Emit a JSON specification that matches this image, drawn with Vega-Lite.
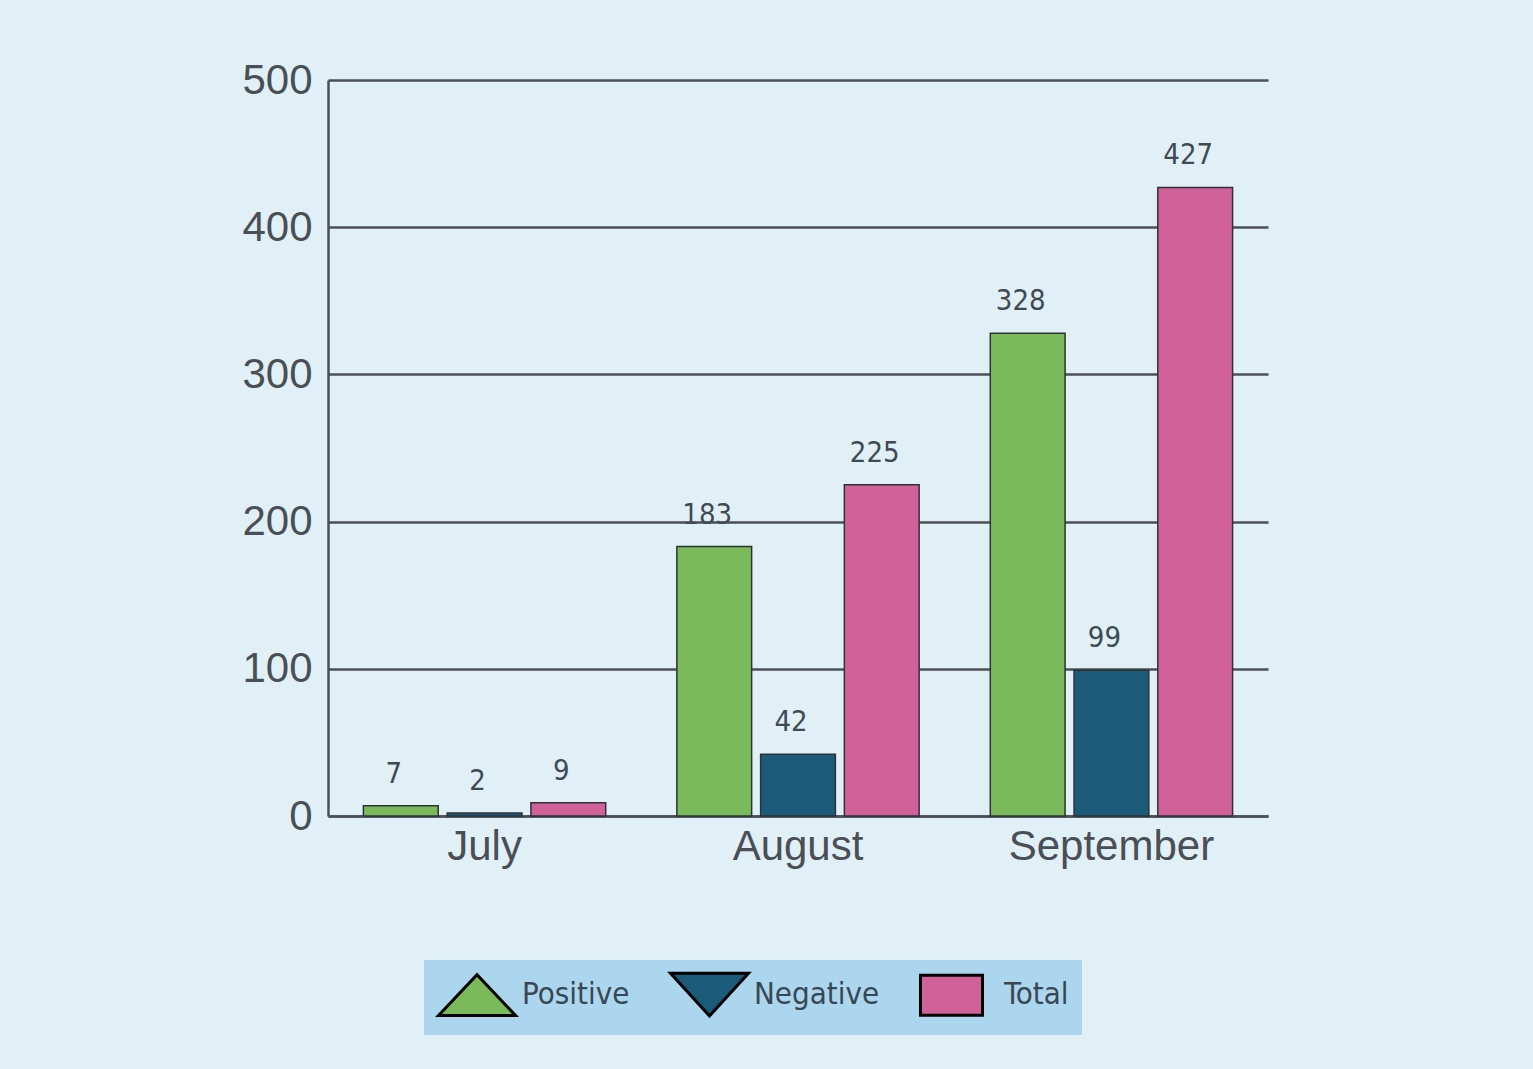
{
  "$schema": "https://vega.github.io/schema/vega-lite/v6.json",
  "width": 940,
  "height": 736,
  "autosize": {"type": "none"},
  "padding": {"left": 328, "top": 80, "right": 265, "bottom": 253},
  "background": "#e1f0f7",
  "config": {
    "view": {"stroke": null},
    "axis": {"labelFont": "Liberation Sans", "labelColor": "#4a4f55", "labelFontSize": 42, "labelLimit": 400, "tickSize": 0, "domainColor": "#4a5056", "domainWidth": 2.5, "title": null}
  },
  "data": {
    "values": [
      {"month": "July", "type": "Positive", "value": 7},
      {"month": "July", "type": "Negative", "value": 2},
      {"month": "July", "type": "Total", "value": 9},
      {"month": "August", "type": "Positive", "value": 183},
      {"month": "August", "type": "Negative", "value": 42},
      {"month": "August", "type": "Total", "value": 225},
      {"month": "September", "type": "Positive", "value": 328},
      {"month": "September", "type": "Negative", "value": 99},
      {"month": "September", "type": "Total", "value": 427}
    ]
  },
  "encoding": {
    "x": {"field": "month", "type": "nominal", "sort": ["July", "August", "September"],
      "scale": {"paddingInner": 0.227, "paddingOuter": 0.113},
      "axis": {"labelAngle": 0, "labelPadding": 10, "grid": false, "domain": true}},
    "xOffset": {"field": "type", "type": "nominal", "sort": ["Positive", "Negative", "Total"],
      "scale": {"paddingInner": 0.107, "paddingOuter": 0}},
    "y": {"field": "value", "type": "quantitative", "scale": {"domain": [0, 500], "nice": false},
      "axis": {"values": [0, 100, 200, 300, 400, 500], "grid": true, "gridColor": "#4a5056", "gridWidth": 2.5, "gridOpacity": 1, "labelPadding": 16, "domain": true}}
  },
  "layer": [
    {
      "mark": {"type": "bar", "stroke": "#2e3236", "strokeWidth": 1.5},
      "encoding": {
        "color": {"field": "type", "type": "nominal", "sort": ["Positive", "Negative", "Total"],
          "scale": {"domain": ["Positive", "Negative", "Total"], "range": ["#7aba5a", "#1b5a78", "#d06299"]},
          "legend": {
            "title": null, "orient": "none", "legendX": 96, "legendY": 880, "direction": "horizontal",
            "fillColor": "#acd5ee", "padding": 13, "columnPadding": 34,
            "symbolSize": 1600, "symbolStrokeColor": "#000000", "symbolStrokeWidth": 3, "symbolOpacity": 1,
            "labelFont": "DejaVu Sans Condensed, DejaVu Sans", "labelFontSize": 31, "labelColor": "#384853", "labelOffset": 42, "labelLimit": 300,
            "encode": {"symbols": {"update": {"shape": {"signal": "datum.value === 'Positive' ? 'M-1,1.02L0.925,-1.02L2.85,1.02Z' : datum.value === 'Negative' ? 'M-1,-1.07L2.9,-1.07L0.95,1.07Z' : 'M-1,-1L2.1,-1L2.1,1L-1,1Z'"}}}}
          }}
      }
    },
    {
      "mark": {"type": "text", "baseline": "alphabetic", "dy": -23, "dx": -7, "font": "DejaVu Sans Condensed, DejaVu Sans", "fontSize": 29, "color": "#3f4a52"},
      "encoding": {"text": {"field": "value", "type": "quantitative"}}
    }
  ]
}
